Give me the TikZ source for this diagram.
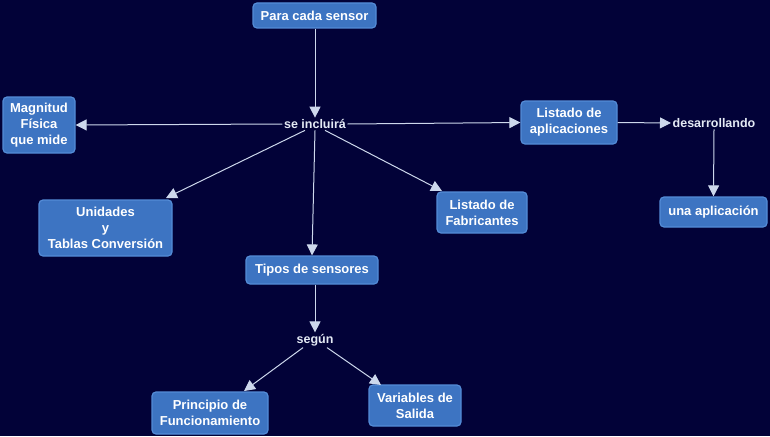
\documentclass[tikz,border=0pt]{standalone}
\usepackage{fontspec}
\setmainfont{Liberation Sans}
\usetikzlibrary{arrows.meta}
\definecolor{bg}{RGB}{2,2,56}
\definecolor{boxfill}{RGB}{61,116,194}
\definecolor{boxedge}{RGB}{84,140,215}
\definecolor{linec}{RGB}{205,216,236}
\definecolor{lbltext}{RGB}{228,234,245}
\begin{document}
\begin{tikzpicture}[x=1pt,y=-1pt,
  cbox/.style={draw=boxedge,line width=1.2pt,fill=boxfill,rounded corners=4pt,
    text=white,font=\fontsize{13}{16}\selectfont\bfseries,align=center,inner sep=0pt},
  lbl/.style={text=lbltext,font=\fontsize{12.5}{14}\selectfont\bfseries,inner sep=1.5pt},
  conn/.style={draw=linec,line width=1pt,-{Triangle[width=11pt,length=11pt]}}]
\fill[bg] (0,0) rectangle (770,436);
\useasboundingbox (0,0) rectangle (770,436);
\node[cbox,minimum width=123pt,minimum height=25pt] (para) at (314.5,15.5) {Para cada sensor};
\node[cbox,minimum width=72pt,minimum height=56pt] (mag) at (39,125) {Magnitud\\Física\\que mide};
\node[lbl] (inc) at (315,124) {se incluirá};
\node[cbox,minimum width=96pt,minimum height=43pt] (lapl) at (569,122.5) {Listado de\\aplicaciones};
\node[lbl] (des) at (714,123) {desarrollando};
\node[cbox,minimum width=107pt,minimum height=30pt] (una) at (713.5,212) {una aplicación};
\node[cbox,minimum width=133pt,minimum height=56pt] (uni) at (105.5,228) {Unidades\\y\\Tablas Conversión};
\node[cbox,minimum width=90pt,minimum height=41pt] (fab) at (482,212.5) {Listado de\\Fabricantes};
\node[cbox,minimum width=132pt,minimum height=28pt] (tip) at (312,270) {Tipos de sensores};
\node[lbl] (seg) at (315,340) {según};
\node[cbox,minimum width=116pt,minimum height=42pt] (pri) at (210,413) {Principio de\\Funcionamiento};
\node[cbox,minimum width=92pt,minimum height=41pt] (var) at (415,405.5) {Variables de\\Salida};
\coordinate (uniin) at (166,198);
\coordinate (fabin) at (442,191);
\coordinate (priin) at (244,391);
\coordinate (varin) at (381,385);
\draw[conn] (para.south -| inc.north) -- (inc.north);
\draw[conn] (inc.west) -- (mag.east);
\draw[conn] (inc.east) -- (lapl.west);
\draw[conn] ([shift={(-10,0)}]inc.south) -- (uniin);
\draw[conn] (inc.south) -- (tip.north);
\draw[conn] ([shift={(10,0)}]inc.south) -- (fabin);
\draw[conn] (lapl.east) -- (des.west);
\draw[conn] (des.south) -- (una.north);
\draw[conn] (tip.south -| seg.north) -- (seg.north);
\draw[conn] ([shift={(-12,0)}]seg.south) -- (priin);
\draw[conn] ([shift={(12,0)}]seg.south) -- (varin);
\end{tikzpicture}
\end{document}
